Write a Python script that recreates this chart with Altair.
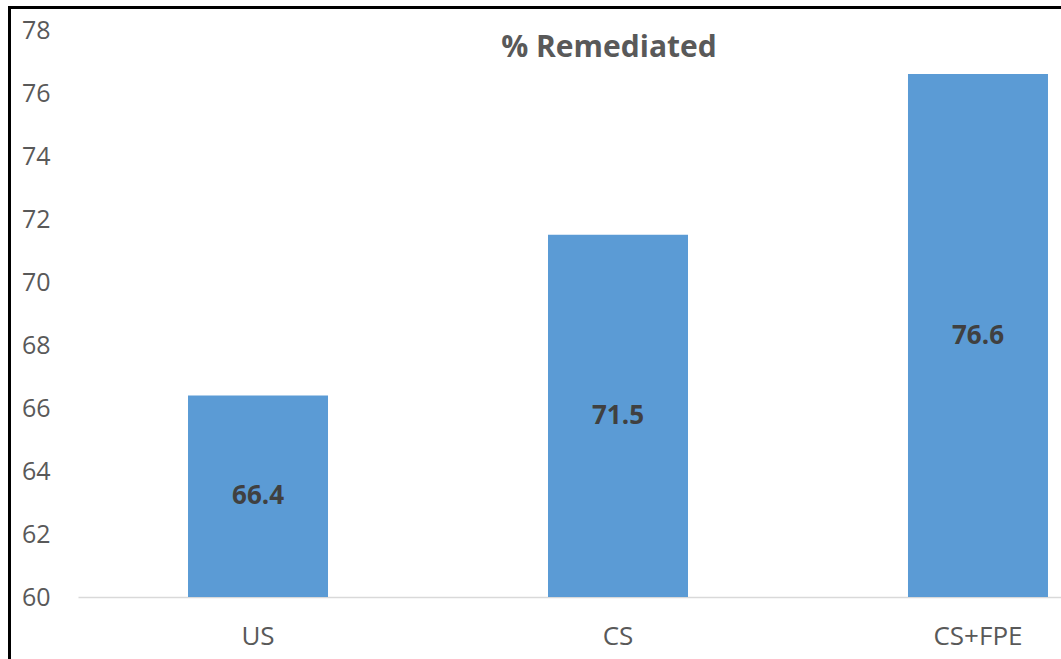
import altair as alt
import pandas as pd

# Share of cases remediated per condition
groups = ["US", "CS", "CS+FPE"]
remediated = [66.4, 71.5, 76.6]

y_ticks = [60, 62, 64, 66, 68, 70, 72, 74, 76, 78]

df = pd.DataFrame({"group": groups, "pct": remediated})

BAR = "#5B9BD5"
GREY = "#595959"
FONT = "Open Sans"

x_enc = alt.X(
    "group:N",
    sort=groups,
    scale=alt.Scale(range=[0, 1080], paddingInner=0.6111, paddingOuter=0.3056),
    axis=alt.Axis(
        title=None,
        labelAngle=0,
        labelFont=FONT,
        labelFontSize=26,
        labelColor=GREY,
        labelPadding=26,
        ticks=False,
        domainColor="#d9d9d9",
        domainWidth=1.5,
        grid=False,
    ),
)

y_scale = alt.Scale(domain=[60, 78], nice=False, zero=False)

bars = alt.Chart(df).mark_bar(color=BAR).encode(
    x=x_enc,
    y=alt.Y(
        "pct:Q",
        scale=y_scale,
        axis=alt.Axis(
            title=None,
            values=y_ticks,
            labelFont=FONT,
            labelFontSize=25,
            labelColor=GREY,
            labelPadding=28,
            ticks=False,
            domain=False,
            grid=False,
        ),
    ),
    y2=alt.datum(60),
)

labels = alt.Chart(df).transform_calculate(
    mid="(datum.pct + 60) / 2"
).mark_text(
    font=FONT, fontSize=26, fontWeight="bold", color="#404040", baseline="middle"
).encode(
    x=alt.X("group:N", sort=groups),
    y=alt.Y("mid:Q", scale=y_scale),
    text=alt.Text("pct:Q", format=".1f"),
)

title = alt.Chart(alt.Data(values=[{"t": "% Remediated"}])).mark_text(
    font=FONT, fontSize=30, fontWeight="bold", color=GREY, baseline="middle", align="center"
).encode(
    x=alt.value(531),
    y=alt.value(18),
    text="t:N",
)

# outer frame: left and top edges
frame_left = alt.Chart(alt.Data(values=[{}])).mark_rule(color="black", strokeWidth=3).encode(
    x=alt.value(-68.5), y=alt.value(-22.5), y2=alt.value(700)
)
frame_top = alt.Chart(alt.Data(values=[{}])).mark_rule(color="black", strokeWidth=3).encode(
    x=alt.value(-70), x2=alt.value(1100), y=alt.value(-22.5)
)

chart = alt.layer(bars, labels, title, frame_left, frame_top).properties(
    width=983,
    height=567,
    autosize=alt.AutoSizeParams(type="none"),
    padding={"left": 78, "top": 30, "right": 0, "bottom": 62},
    background="white",
).configure_view(stroke=None)

chart.save("out.html", embed_options={"renderer": "svg", "actions": False})
